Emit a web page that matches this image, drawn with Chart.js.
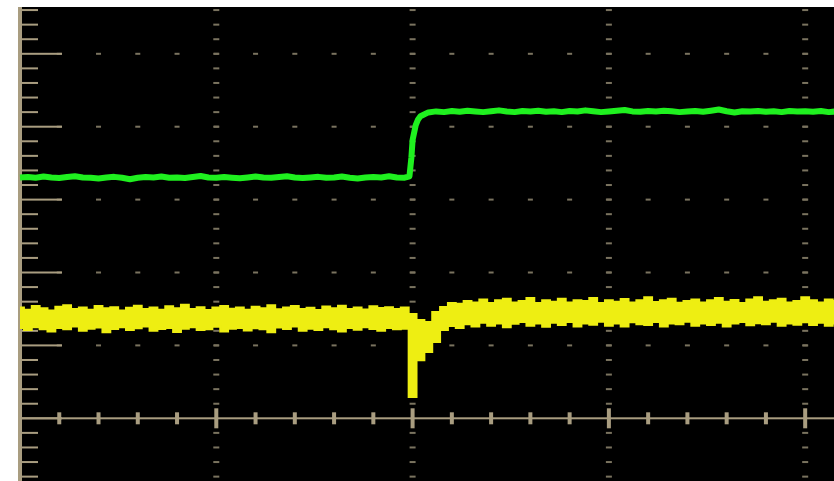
<!DOCTYPE html>
<html>
<head>
<meta charset="utf-8">
<script src="https://cdn.jsdelivr.net/npm/chart.js@4"></script>
<style>
    body { margin: 0; background: #ffffff; }
    #scopeBox { position: absolute; left: 18px; top: 7px; width: 816px; height: 474px; }
</style>
</head>
<body>
<div id="scopeBox"><canvas id="scopeCanvas" width="816" height="474"></canvas></div>
<script>
// units: 1 = one minor graticule tick (5 per division)

const greenLevel = [
    16.52, 16.55, 16.50, 16.58, 16.52, 16.48, 16.55, 16.60, 16.52, 16.50,
    16.45, 16.52, 16.56, 16.50, 16.40, 16.50, 16.55, 16.52, 16.58, 16.50,
    16.52, 16.48, 16.55, 16.62, 16.52, 16.50, 16.55, 16.50, 16.46, 16.52,
    16.58, 16.52, 16.50, 16.55, 16.60, 16.52, 16.48, 16.52, 16.56, 16.50,
    16.52, 16.58, 16.50, 16.45, 16.52, 16.55, 16.52, 16.60, 16.52, 16.50,
    19.09,
    20.72, 20.98, 21.05, 21.00, 21.08, 21.02, 21.10, 21.05, 21.00, 21.06,
    21.12, 21.04, 21.00, 21.08, 21.05, 21.10, 21.02, 21.06, 21.00, 21.08,
    21.04, 21.12, 21.06, 21.00, 21.05, 21.10, 21.15, 21.05, 21.02, 21.08,
    21.04, 21.10, 21.06, 21.00, 21.04, 21.08, 21.02, 21.10, 21.18, 21.06,
    20.98, 21.06, 21.04, 21.08, 21.02, 21.06, 21.00, 21.08, 21.04, 21.06,
    21.02, 21.08, 21.00, 21.05
];

const greenEdgeTimes = [9.92, 9.97, 10.08, 10.14];
const greenEdgeLevel = [16.6, 17.9, 20.1, 20.5];

const yellowHigh = [
    7.60, 7.45, 7.70, 7.55, 7.40, 7.65, 7.75, 7.50, 7.60, 7.45,
    7.70, 7.55, 7.62, 7.40, 7.58, 7.72, 7.50, 7.60, 7.45, 7.68,
    7.55, 7.78, 7.50, 7.62, 7.42, 7.60, 7.70, 7.52, 7.60, 7.45,
    7.65, 7.55, 7.75, 7.48, 7.60, 7.70, 7.50, 7.58, 7.42, 7.66,
    7.55, 7.72, 7.50, 7.60, 7.46, 7.68, 7.56, 7.62, 7.50, 7.60,
    7.15,
    6.74, 6.60, 7.29, 7.63, 7.91, 7.85, 8.05, 7.95, 8.15, 7.90,
    8.10, 8.20, 7.95, 8.05, 8.25, 7.90, 8.10, 8.00, 8.20, 7.95,
    8.10, 8.05, 8.25, 7.90, 8.10, 8.00, 8.18, 7.95, 8.10, 8.30,
    7.98, 8.10, 8.20, 7.92, 8.05, 8.15, 7.95, 8.10, 8.25, 8.00,
    8.12, 7.90, 8.15, 8.30, 8.00, 8.10, 8.20, 7.95, 8.05, 8.30,
    8.10, 7.95, 8.15, 8.05
];

const yellowLow = [
    6.20, 6.05, 6.25, 6.10, 5.95, 6.20, 6.10, 6.30, 6.00, 6.15,
    6.22, 5.90, 6.12, 6.25, 6.05, 6.18, 6.30, 6.00, 6.12, 6.20,
    5.92, 6.15, 6.25, 6.05, 6.10, 6.28, 5.95, 6.15, 6.20, 6.02,
    6.18, 6.10, 5.90, 6.22, 6.12, 6.30, 6.00, 6.15, 6.05, 6.25,
    6.10, 5.95, 6.20, 6.08, 6.25, 6.12, 6.00, 6.20, 6.10, 6.15,
    1.46,
    3.99, 4.55, 5.23, 6.06, 6.33, 6.20, 6.45, 6.30, 6.55, 6.35,
    6.50, 6.25, 6.48, 6.60, 6.35, 6.50, 6.28, 6.55, 6.40, 6.60,
    6.30, 6.50, 6.42, 6.62, 6.35, 6.50, 6.30, 6.58, 6.45, 6.40,
    6.60, 6.30, 6.50, 6.45, 6.62, 6.35, 6.50, 6.40, 6.55, 6.30,
    6.50, 6.60, 6.38, 6.52, 6.45, 6.62, 6.35, 6.50, 6.42, 6.58,
    6.40, 6.55, 6.35, 6.50
];

const sampleTimes = [];
for (let i = 0; i < greenLevel.length; i++) {
    sampleTimes.push(Math.round(i * 2) / 10);
}

const greenPoints = sampleTimes
    .map((t, i) => ({ x: t, y: greenLevel[i] }))
    .concat(greenEdgeTimes.map((t, i) => ({ x: t, y: greenEdgeLevel[i] })))
    .sort((a, b) => a.x - b.x);

const yellowTop = sampleTimes.map((t, i) => ({ x: t, y: yellowHigh[i] }));
const yellowBottom = sampleTimes.map((t, i) => ({ x: t, y: yellowLow[i] }));

const axisColor = "#a99d80";
const dotColor = "#7a735f";

const graticule = {
    id: "graticule",
    beforeDraw(chart) {
        const c = chart.ctx;
        c.save();
        c.fillStyle = "#000000";
        c.fillRect(0, 0, chart.width, chart.height);
        c.restore();
    },
    beforeDatasetsDraw(chart) {

        const c = chart.ctx;
        const xs = chart.scales.x;
        const ys = chart.scales.y;
        const x0 = xs.getPixelForValue(0);
        const y0 = ys.getPixelForValue(0);

        c.save();

        // dotted major lines
        c.fillStyle = dotColor;
        for (let row = 5; row <= 25; row += 5) {
            const py = ys.getPixelForValue(row);
            for (let col = 1; col <= 20; col++) {
                const px = xs.getPixelForValue(col);
                c.fillRect(px - 2.5, py - 1, 5, 2);
            }
        }
        for (let col = 5; col <= 20; col += 5) {
            const px = xs.getPixelForValue(col);
            for (let row = -4; row <= 28; row++) {
                if (row === 0) continue;
                const py = ys.getPixelForValue(row);
                c.fillRect(px - 3, py - 1, 6, 2);
            }
        }

        // left axis with ticks
        c.fillStyle = axisColor;
        c.fillRect(x0 - 2, 0, 4, chart.height);
        for (let row = -4; row <= 28; row++) {
            const py = ys.getPixelForValue(row);
            const len = row % 5 === 0 ? 42 : 18;
            c.fillRect(x0, py - 1, len, 2);
        }

        // centre horizontal axis with ticks
        c.fillRect(x0, y0 - 1, chart.width - x0, 2);
        for (let col = 1; col <= 20; col++) {
            const px = xs.getPixelForValue(col);
            const half = col % 5 === 0 ? 10 : 6;
            c.fillRect(px - 2, y0 - half, 4, half * 2);
        }

        c.restore();
    }
};

const chart = new Chart(document.getElementById("scopeCanvas"), {
    type: "line",
    data: {
        datasets: [
            {
                label: "CH1 top",
                data: yellowTop,
                borderColor: "#eeee12",
                borderWidth: 2,
                stepped: "middle",
                pointRadius: 0,
                fill: false
            },
            {
                label: "CH1 bottom",
                data: yellowBottom,
                borderColor: "#eeee12",
                backgroundColor: "#eeee12",
                borderWidth: 2,
                stepped: "middle",
                pointRadius: 0,
                fill: "-1"
            },
            {
                label: "CH2",
                data: greenPoints,
                borderColor: "#1ff01f",
                borderWidth: 6,
                borderJoinStyle: "round",
                tension: 0,
                pointRadius: 0,
                fill: false
            }
        ]
    },
    options: {
        responsive: false,
        animation: false,
        devicePixelRatio: 1,
        layout: { padding: 0 },
        plugins: {
            legend: { display: false },
            tooltip: { enabled: false }
        },
        scales: {
            x: {
                type: "linear",
                min: -0.051,
                max: 20.734,
                display: false
            },
            y: {
                type: "linear",
                min: -4.30,
                max: 28.21,
                display: false
            }
        }
    },
    plugins: [graticule]
});
</script>
</body>
</html>
